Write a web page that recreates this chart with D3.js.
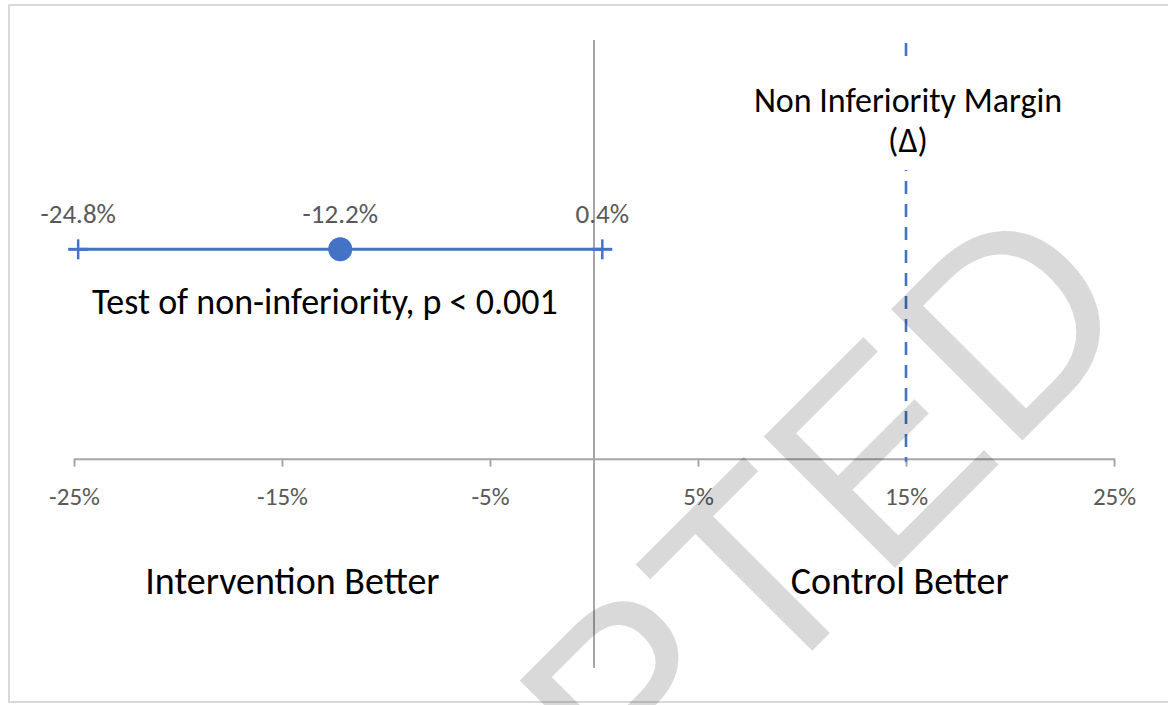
<!DOCTYPE html>
<html>
<head>
<meta charset="utf-8">
<script src="https://cdn.jsdelivr.net/npm/d3@7"></script>
<style>
  body { margin: 0; background: #fff; }
  svg { display: block; }
</style>
</head>
<body>
<svg id="chart" width="1168" height="705"></svg>
<script>
// Risk difference (intervention - control), percentage points
const axisTicks = [-25, -15, -5, 5, 15, 25];
const axisTickLabels = ["-25%", "-15%", "-5%", "5%", "15%", "25%"];
const pointEstimate = [-12.2];
const ciLower = [-24.8];
const ciUpper = [0.4];
const valueLabels = ["-24.8%", "-12.2%", "0.4%"];
const marginValue = [15];
const marginLabel = ["Non Inferiority Margin", "(\u0394)"];
const testLabel = ["Test of non-inferiority, p < 0.001"];
const sideLabels = ["Intervention Better", "Control Better"];

const W = 1168, H = 705;
const font = "Calibri, Carlito, Lato, 'Open Sans', sans-serif";
const svg = d3.select("#chart");

const x = d3.scaleLinear().domain([-25, 25]).range([74, 1114]);
const y = d3.scaleLinear().domain([-0.5, 1]).range([668, 40]);
const rowY = y(0.5);
const blue = "#4472c4";

// frame
svg.append("rect")
  .attr("x", 9).attr("y", 5).attr("width", W + 10).attr("height", H - 8)
  .attr("fill", "#fff").attr("stroke", "#d9d9d9").attr("stroke-width", 2);

// horizontal axis with downward ticks
const xAxis = d3.axisBottom(x)
  .tickValues(axisTicks)
  .tickSize(8)
  .tickSizeOuter(0)
  .tickFormat((d, i) => axisTickLabels[i]);

const gx = svg.append("g")
  .attr("transform", `translate(0,${y(0)})`)
  .call(xAxis);
gx.select(".domain").attr("stroke", "#a6a6a6").attr("stroke-width", 2);
gx.selectAll(".tick line").attr("stroke", "#a6a6a6").attr("stroke-width", 2);
gx.selectAll(".tick text")
  .attr("y", 38)
  .attr("dy", "0.35em")
  .attr("fill", "#595959")
  .style("font-family", font)
  .style("font-size", "25px");

// vertical zero line
svg.append("line")
  .attr("x1", x(0)).attr("x2", x(0))
  .attr("y1", y(1)).attr("y2", y(-0.5))
  .attr("stroke", "#a6a6a6").attr("stroke-width", 2);

// non-inferiority margin (dashed)
svg.selectAll(".margin-line")
  .data(marginValue)
  .join("line")
  .attr("class", "margin-line")
  .attr("x1", d => x(d)).attr("x2", d => x(d))
  .attr("y1", y(1) + 3).attr("y2", y(0) + 3)
  .attr("stroke", blue).attr("stroke-width", 2.6)
  .attr("stroke-dasharray", "13,10");

// margin label on white backing
const mg = svg.append("g");
mg.append("rect")
  .attr("x", x(marginValue[0]) - 175).attr("y", 58)
  .attr("width", 350).attr("height", 112)
  .attr("fill", "#fff");
mg.selectAll("text")
  .data(marginLabel)
  .join("text")
  .attr("x", x(marginValue[0]) + 2)
  .attr("y", (d, i) => 100 + i * 40)
  .attr("dy", "0.35em")
  .attr("text-anchor", "middle")
  .attr("fill", "#000")
  .style("font-family", font)
  .style("font-size", "34px")
  .text(d => d);

// confidence interval with "+" end markers
const ci = svg.append("g");
ci.selectAll(".ci-line")
  .data(pointEstimate)
  .join("line")
  .attr("class", "ci-line")
  .attr("x1", (d, i) => x(ciLower[i])).attr("x2", (d, i) => x(ciUpper[i]))
  .attr("y1", rowY).attr("y2", rowY)
  .attr("stroke", blue).attr("stroke-width", 3);
const ends = ci.selectAll(".ci-end")
  .data([ciLower[0], ciUpper[0]])
  .join("g")
  .attr("class", "ci-end")
  .attr("transform", d => `translate(${x(d)},${rowY})`);
ends.append("line")
  .attr("x1", 0).attr("x2", 0).attr("y1", -10).attr("y2", 10)
  .attr("stroke", blue).attr("stroke-width", 2.5);
ends.append("line")
  .attr("x1", -10).attr("x2", 10).attr("y1", 0).attr("y2", 0)
  .attr("stroke", blue).attr("stroke-width", 3);
ci.selectAll("circle")
  .data(pointEstimate)
  .join("circle")
  .attr("cx", d => x(d)).attr("cy", rowY)
  .attr("r", 12)
  .attr("fill", blue);

// value labels above the interval
svg.selectAll(".value-label")
  .data([ciLower[0], pointEstimate[0], ciUpper[0]])
  .join("text")
  .attr("class", "value-label")
  .attr("x", d => x(d))
  .attr("y", rowY - 36)
  .attr("dy", "0.35em")
  .attr("text-anchor", "middle")
  .attr("fill", "#595959")
  .style("font-family", font)
  .style("font-size", "27px")
  .text((d, i) => valueLabels[i]);

// test result
svg.append("text")
  .attr("x", 92).attr("y", rowY + 52)
  .attr("dy", "0.35em")
  .attr("fill", "#000")
  .style("font-family", font)
  .style("font-size", "36px")
  .text(testLabel[0]);

// direction labels
svg.selectAll(".side-label")
  .data(sideLabels)
  .join("text")
  .attr("class", "side-label")
  .attr("x", (d, i) => i === 0 ? x(-14.5) : x(14.7))
  .attr("y", 581)
  .attr("dy", "0.35em")
  .attr("text-anchor", "middle")
  .attr("fill", "#000")
  .style("font-family", font)
  .style("font-size", "38px")
  .text(d => d);

// watermark
svg.append("text")
  .attr("transform", "translate(105,1358) rotate(-45)")
  .attr("fill", "#000")
  .attr("fill-opacity", 0.15)
  .style("font-family", "'Liberation Sans', Arial, sans-serif")
  .style("font-size", "270px")
  .text("ACCEPTED");
</script>
</body>
</html>
